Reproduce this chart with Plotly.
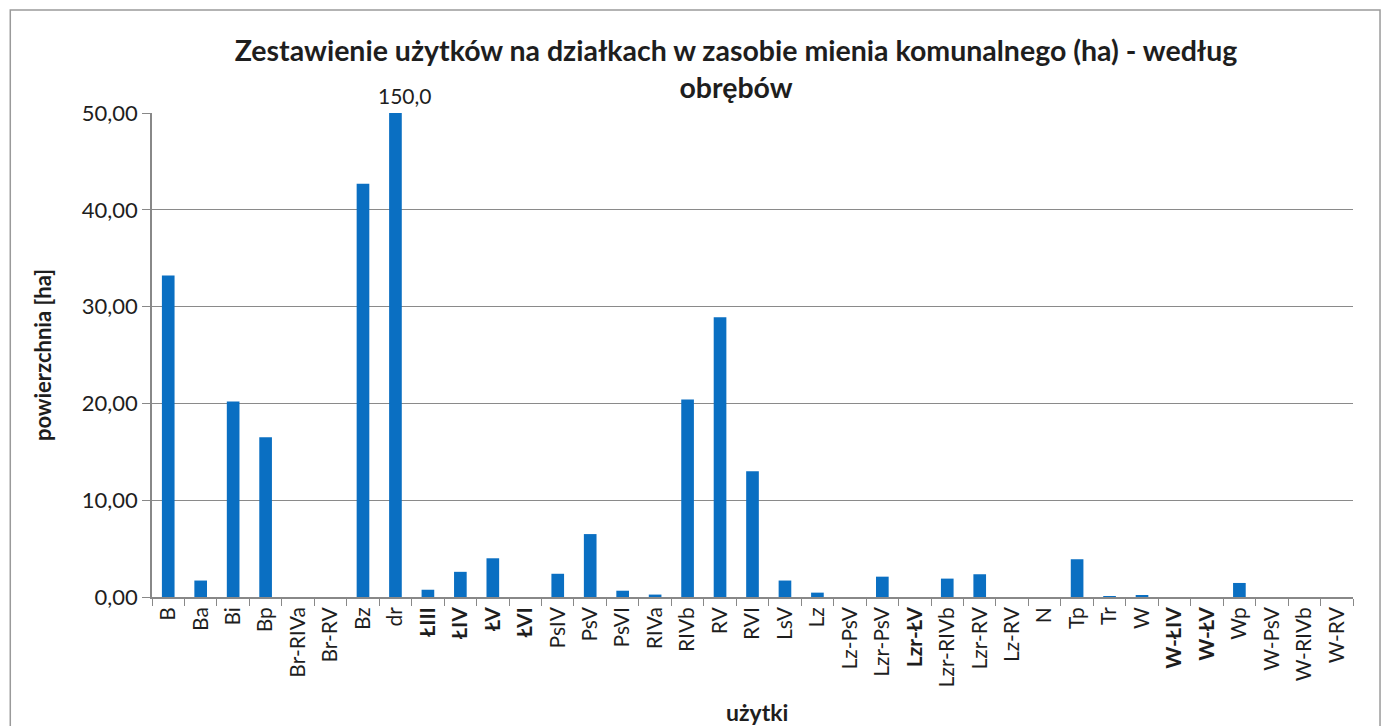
import plotly.graph_objects as go

categories = ["B", "Ba", "Bi", "Bp", "Br-RIVa", "Br-RV", "Bz", "dr", "ŁIII", "ŁIV", "ŁV", "ŁVI",
              "PsIV", "PsV", "PsVI", "RIVa", "RIVb", "RV", "RVI", "LsV", "Lz", "Lz-PsV", "Lzr-PsV",
              "Lzr-ŁV", "Lzr-RIVb", "Lzr-RV", "Lz-RV", "N", "Tp", "Tr", "W", "W-ŁIV", "W-ŁV", "Wp",
              "W-PsV", "W-RIVb", "W-RV"]
values = [33.2, 1.7, 20.2, 16.5, 0.0, 0.0, 42.7, 150.0, 0.75, 2.6, 4.0, 0.0,
          2.4, 6.5, 0.65, 0.25, 20.4, 28.9, 13.0, 1.7, 0.45, 0.0, 2.1,
          0.0, 1.9, 2.35, 0.0, 0.0, 3.9, 0.03, 0.2, 0.0, 0.0, 1.45,
          0.0, 0.0, 0.0]
bold_labels = ["ŁIII", "ŁIV", "ŁV", "ŁVI", "Lzr-ŁV", "W-ŁIV", "W-ŁV"]
title_text = "Zestawienie użytków na działkach w zasobie mienia komunalnego (ha) - według<br>obrębów"
x_title = "użytki"
y_title = "powierzchnia [ha]"
y_ticks = [0, 10, 20, 30, 40, 50]

FONT = "Lato"
BAR = "#0a6fc2"
TXT = "#1e1e1e"

ticktext = [f"<b>{c}</b>" if c in bold_labels else c for c in categories]

fig = go.Figure()
fig.add_trace(go.Bar(x=categories, y=values, marker_color=BAR, marker_line_width=0,
                     cliponaxis=True))

# data label for the clipped bar
for c, v in zip(categories, values):
    if v > 50:
        fig.add_annotation(x=c, y=50, text=f"{v:.1f}".replace(".", ","), showarrow=False,
                           yanchor="bottom", yshift=3, xshift=10,
                           font=dict(family=FONT, size=21, color=TXT))

fig.add_annotation(text=f"<b>{x_title}</b>", xref="paper", yref="paper", x=0.504, y=-0.238,
                   xanchor="center", yanchor="middle", showarrow=False,
                   font=dict(family=FONT, size=23, color=TXT))
fig.add_annotation(text=f"<b>{y_title}</b>", xref="paper", yref="paper", x=-0.0915, y=0.5,
                   xanchor="center", yanchor="middle", showarrow=False, textangle=-90,
                   font=dict(family=FONT, size=22, color=TXT))

# the page body adds an 8px margin, so the figure is 8px smaller than the window
fig.update_layout(
    width=1382, height=718,
    margin=dict(l=144, r=37, t=105, b=129, autoexpand=False),
    paper_bgcolor="white", plot_bgcolor="white",
    separators=",.",
    bargap=0.61,
    showlegend=False,
    font=dict(family=FONT, color=TXT),
    title=dict(text=f"<b>{title_text}</b>", x=0.5268, xref="container", xanchor="center",
               y=0.926, yref="container", yanchor="middle",
               font=dict(family=FONT, size=28.5, color=TXT)),
)
fig.update_xaxes(
    type="category", tickmode="array", tickvals=categories, ticktext=ticktext,
    tickangle=-90, tickfont=dict(family=FONT, size=21, color=TXT),
    ticks="outside", tickson="boundaries", ticklen=7, tickcolor="#888",
    showline=True, linecolor="#888", linewidth=1.5, showgrid=False, automargin=False,
)
fig.update_yaxes(
    range=[0, 50], tickvals=y_ticks, tickformat=".2f",
    tickfont=dict(family=FONT, size=22, color=TXT),
    ticks="outside", ticklen=8, tickcolor="#888",
    showline=True, linecolor="#888", linewidth=1.5, automargin=False,
    showgrid=True, gridcolor="#8a8a8a", gridwidth=1.3, zeroline=False,
)
# chart frame
fig.add_shape(type="rect", xref="paper", yref="paper", x0=-0.118, x1=1.0225, y0=-0.3, y1=1.213,
              line=dict(color="#9a9a9a", width=1.5), fillcolor="rgba(0,0,0,0)", layer="below")

fig.write_html("out.html")
